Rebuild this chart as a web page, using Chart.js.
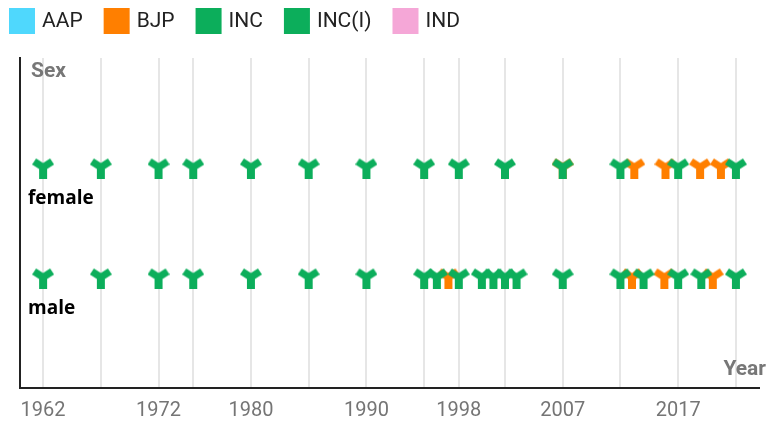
<!DOCTYPE html>
<html>
<head>
<meta charset="utf-8">
<script src="https://cdn.jsdelivr.net/npm/chart.js@4"></script>
<style>
  html, body { margin: 0; padding: 0; background: #fff; width: 766px; height: 426px; overflow: hidden; }
  /* chart.js keeps ~5px on the right, so the canvas is a bit wider than the window */
  #wrap { width: 771px; height: 426px; }
</style>
</head>
<body>
<div id="wrap"><canvas id="chart"></canvas></div>
<script>
const parties = ['AAP', 'BJP', 'INC', 'INC(I)', 'IND'];
const partyColors = ['#4fd8fd', '#ff7f00', '#0cae5b', '#0cae5b', '#f5a7d7'];
const sexes = ['female', 'male'];
const electionYears = [1962, 1967, 1972, 1975, 1980, 1985, 1990, 1995, 1998, 2002, 2007, 2012, 2017, 2022];

// winners per party, x position (year) in each sex row
const aapFemale = [];
const aapMale = [];
const bjpFemale = [2007, 2013.2, 2015.9, 2018.9, 2020.7];
const bjpMale = [1997.1, 2013.0, 2015.8, 2020.0];
const incFemale = [1962, 1967, 1972, 1975, 1985, 1990, 1995, 1998, 2002, 2007, 2012, 2017, 2022];
const incMale = [1962, 1967, 1972, 1975, 1985, 1990, 1995, 1996.1, 1998, 2000, 2001, 2002, 2003, 2007, 2012, 2014, 2017, 2019, 2022];
const inciFemale = [1980];
const inciMale = [1980];
const indFemale = [];
const indMale = [];

const rows = [
  [aapFemale, aapMale],
  [bjpFemale, bjpMale],
  [incFemale, incMale],
  [inciFemale, inciMale],
  [indFemale, indMale]
];

// little "Y" glyph used as point style
function makeMarker(color) {
  const c = document.createElement('canvas');
  c.width = 22; c.height = 21;
  const g = c.getContext('2d');
  g.fillStyle = color;
  g.beginPath();
  g.moveTo(4, 1); g.lineTo(11, 5.5); g.lineTo(18, 1); g.lineTo(22, 7);
  g.lineTo(15, 11.5); g.lineTo(15, 21); g.lineTo(7, 21); g.lineTo(7, 11.5);
  g.lineTo(0, 7);
  g.closePath();
  g.fill();
  return c;
}

const datasets = parties.map((p, i) => ({
  label: p,
  data: rows[i][0].map(x => ({ x: x, y: 1 })).concat(rows[i][1].map(x => ({ x: x, y: 2 }))),
  backgroundColor: partyColors[i],
  borderColor: partyColors[i],
  pointStyle: makeMarker(partyColors[i]),
  pointRadius: 11,
  order: p === 'INC' || p === 'INC(I)' ? 0 : 1
}));

const extras = {
  id: 'extras',
  afterDraw(chart) {
    const ctx = chart.ctx;
    ctx.save();
    // legend
    ctx.font = '21px Roboto';
    ctx.textBaseline = 'middle';
    ctx.textAlign = 'left';
    let x = 9;
    chart.data.datasets.forEach(ds => {
      ctx.fillStyle = ds.backgroundColor;
      ctx.fillRect(x, 8, 26, 26);
      ctx.fillStyle = '#222';
      ctx.fillText(ds.label, x + 33, 22);
      x += 33 + ctx.measureText(ds.label).width + 21;
    });
    // axis titles
    ctx.fillStyle = '#777';
    ctx.font = 'bold 21px Roboto';
    ctx.textBaseline = 'alphabetic';
    ctx.fillText('Sex', 31, 77);
    ctx.textAlign = 'right';
    ctx.fillText('Year', 766, 375);
    ctx.restore();
  }
};

new Chart(document.getElementById('chart'), {
  type: 'scatter',
  data: { datasets: datasets },
  options: {
    responsive: true,
    maintainAspectRatio: false,
    animation: false,
    events: [],
    layout: { padding: { top: 58, left: 4, right: 0, bottom: -8 } },
    plugins: { legend: { display: false }, tooltip: { enabled: false } },
    scales: {
      x: {
        type: 'linear',
        min: 1960,
        max: 2024,
        afterBuildTicks: s => { s.ticks = electionYears.map(v => ({ value: v })); },
        ticks: {
          autoSkip: false,
          maxRotation: 0,
          padding: 0,
          color: '#757575',
          font: { family: 'Roboto, sans-serif', size: 20, lineHeight: 2.3 },
          callback: (v, i) => (i % 2 === 0 ? String(v) : '')
        },
        grid: { color: '#e6e6e6', lineWidth: 2, drawTicks: false },
        border: { color: '#222', width: 2 }
      },
      y: {
        type: 'linear',
        min: 0,
        max: 3,
        reverse: true,
        afterBuildTicks: s => { s.ticks = sexes.map((_, i) => ({ value: i + 1 })); },
        ticks: {
          mirror: true,
          padding: 8,
          labelOffset: 31,
          color: '#000',
          font: { family: "'Open Sans', sans-serif", weight: 'bold', size: 19 },
          callback: v => sexes[v - 1]
        },
        grid: { display: false, drawTicks: false },
        border: { display: true, color: '#222', width: 2 }
      }
    }
  },
  plugins: [extras]
});
</script>
</body>
</html>
